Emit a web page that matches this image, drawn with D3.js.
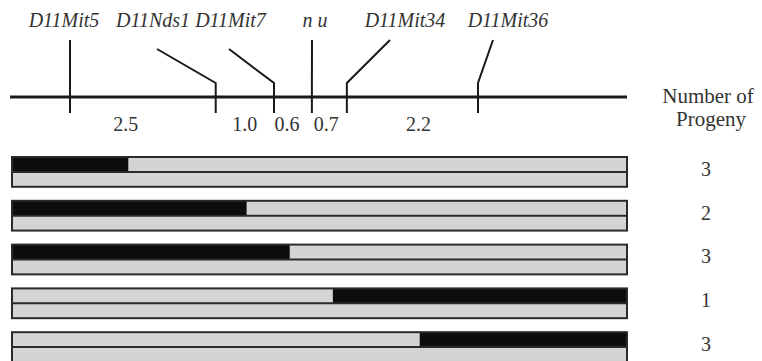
<!DOCTYPE html>
<html>
<head>
<meta charset="utf-8">
<script src="https://cdn.jsdelivr.net/npm/d3@7"></script>
<style>
  body { margin: 0; background: #fff; }
  svg { display: block; }
  .marker { font-family: "Liberation Serif", serif; font-style: italic; font-size: 20px; fill: #333; }
  .num { font-family: "Liberation Serif", serif; font-size: 20px; fill: #333; }
</style>
</head>
<body>
<div id="chart"></div>
<script>
// markers along the chromosome and their map position (cM)
const markers = ['D11Mit5', 'D11Nds1', 'D11Mit7', 'n u', 'D11Mit34', 'D11Mit36'];
const markerPos = [0, 2.5, 3.5, 4.15, 4.75, 7.0];
// distances printed between neighbouring markers
const distances = ['2.5', '1.0', '0.6', '0.7', '2.2'];

// haplotype classes: where the crossover sits (cM) and which side is black
const breakPos = [1.0, 3.03, 3.77, 4.51, 6.0];
const blackSide = ['left', 'left', 'left', 'right', 'right'];
const progeny = [3, 2, 3, 1, 3];

const width = 762, height = 361;
const lineLeft = 10, lineRight = 627, lineY = 97;

// label layout (where each name sits and where its pointer starts)
const labelX = [64, 153, 230.5, 315, 405, 508];
const tipX = [70, 157, 229, 312, 390, 493];
const tipY = [40, 49, 49, 40, 40, 40];
const distNudge = [-17, 0, -6, -3, 6];

const svg = d3.select('#chart').append('svg')
  .attr('width', width)
  .attr('height', height);

const x = d3.scaleLinear().domain([0, 7]).range([70, 478]);

// chromosome line
svg.append('line')
  .attr('x1', lineLeft).attr('x2', lineRight)
  .attr('y1', lineY).attr('y2', lineY)
  .attr('stroke', '#1a1a1a').attr('stroke-width', 3);

// marker pointers
svg.selectAll('path.ptr')
  .data(markerPos)
  .enter().append('path')
  .attr('class', 'ptr')
  .attr('d', (d, i) => `M${tipX[i]},${tipY[i]} L${x(d)},83 L${x(d)},113`)
  .attr('fill', 'none')
  .attr('stroke', '#1a1a1a')
  .attr('stroke-width', 2);

// marker names
svg.selectAll('text.marker')
  .data(markers)
  .enter().append('text')
  .attr('class', 'marker')
  .attr('x', (d, i) => labelX[i])
  .attr('y', 27)
  .attr('text-anchor', 'middle')
  .text(d => d);

// distances
svg.selectAll('text.dist')
  .data(distances)
  .enter().append('text')
  .attr('class', 'num dist')
  .attr('x', (d, i) => (x(markerPos[i]) + x(markerPos[i + 1])) / 2 + distNudge[i])
  .attr('y', 131)
  .attr('text-anchor', 'middle')
  .text(d => d);

// column heading
svg.append('text').attr('class', 'num')
  .attr('x', 708).attr('y', 103)
  .attr('text-anchor', 'middle')
  .style('font-size', '21px')
  .text('Number of');
svg.append('text').attr('class', 'num')
  .attr('x', 711).attr('y', 126)
  .attr('text-anchor', 'middle')
  .style('font-size', '21px')
  .text('Progeny');

// rows of chromosomes
const rows = d3.range(progeny.length);
const y = d3.scaleBand()
  .domain(rows)
  .range([157, 157 + 5 * 43.8])
  .paddingInner(0.32)
  .paddingOuter(0.16)
  .align(0);
const bw = y.bandwidth();
const barLeft = 12, barRight = 627;

const g = svg.selectAll('g.row')
  .data(rows)
  .enter().append('g')
  .attr('class', 'row')
  .attr('transform', d => `translate(0,${y(d)})`);

g.append('rect')
  .attr('x', barLeft).attr('y', 0)
  .attr('width', barRight - barLeft).attr('height', bw)
  .attr('fill', '#d4d4d4');

g.append('rect')
  .attr('x', d => blackSide[d] === 'left' ? barLeft : x(breakPos[d]))
  .attr('y', 0)
  .attr('width', d => blackSide[d] === 'left' ? x(breakPos[d]) - barLeft : barRight - x(breakPos[d]))
  .attr('height', bw / 2)
  .attr('fill', '#0d0d0d');

g.append('rect')
  .attr('x', barLeft).attr('y', 0)
  .attr('width', barRight - barLeft).attr('height', bw)
  .attr('fill', 'none')
  .attr('stroke', '#2a2a2a')
  .attr('stroke-width', 2);

g.append('line')
  .attr('x1', barLeft).attr('x2', barRight)
  .attr('y1', bw / 2).attr('y2', bw / 2)
  .attr('stroke', '#2a2a2a')
  .attr('stroke-width', 2);

g.append('text')
  .attr('class', 'num')
  .attr('x', 706)
  .attr('y', bw / 2 + 4)
  .attr('text-anchor', 'middle')
  .text(d => progeny[d]);
</script>
</body>
</html>
